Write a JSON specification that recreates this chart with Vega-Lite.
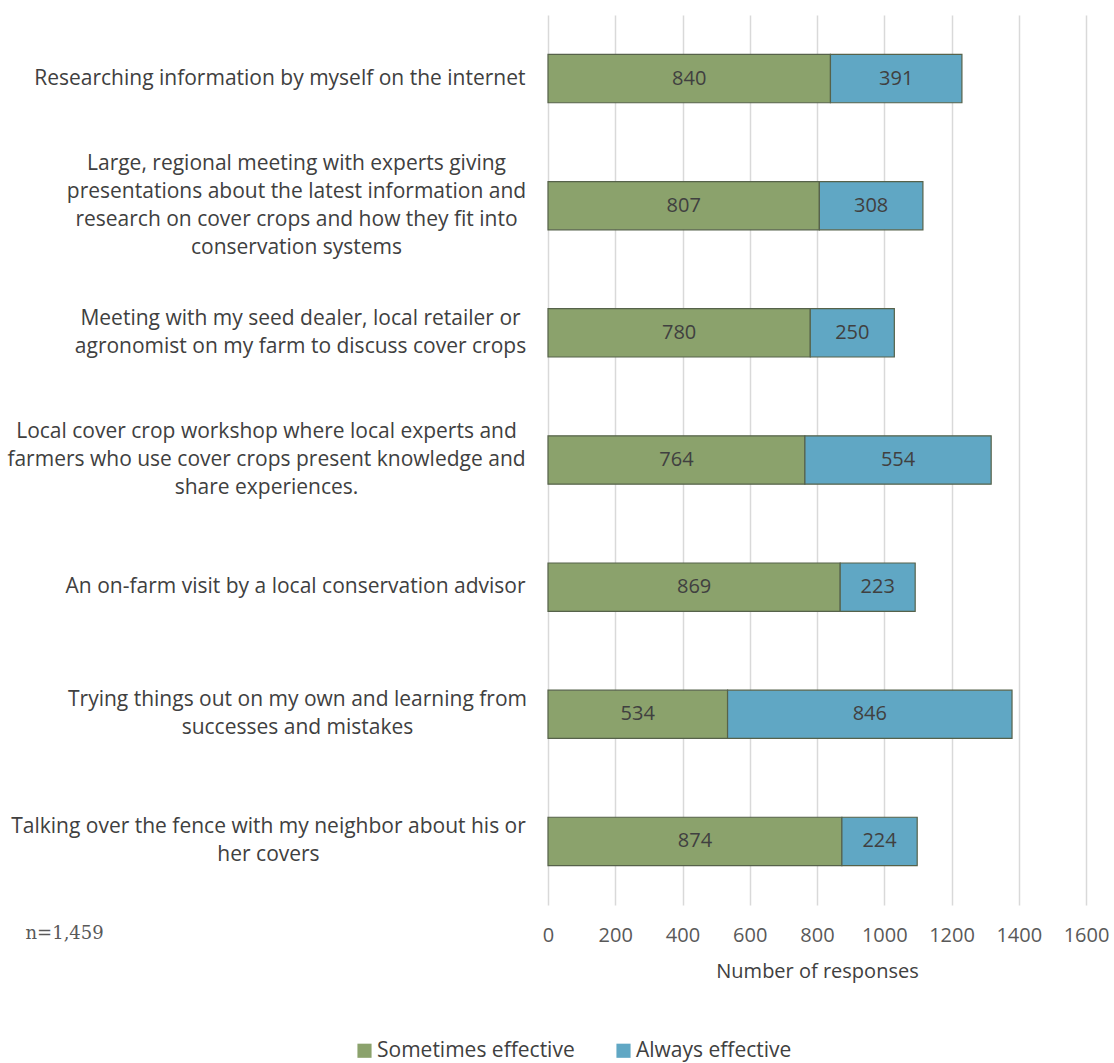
{
  "$schema": "https://vega.github.io/schema/vega-lite/v6.json",
  "autosize": {"type": "none"},
  "padding": {"left": 548, "top": 15, "right": 28, "bottom": 158},
  "width": 538,
  "height": 890,
  "background": "white",
  "config": {
    "view": {"stroke": null},
    "font": "Open Sans"
  },
  "data": {
    "values": [
      {"method": "Researching information by myself on the internet", "type": "Sometimes effective", "ord": 1, "value": 840},
      {"method": "Researching information by myself on the internet", "type": "Always effective", "ord": 2, "value": 391},
      {"method": "Large, regional meeting with experts giving|presentations about the latest information and|research on cover crops and how they fit into|conservation systems", "type": "Sometimes effective", "ord": 1, "value": 807},
      {"method": "Large, regional meeting with experts giving|presentations about the latest information and|research on cover crops and how they fit into|conservation systems", "type": "Always effective", "ord": 2, "value": 308},
      {"method": "Meeting with my seed dealer, local retailer or|agronomist on my farm to discuss cover crops", "type": "Sometimes effective", "ord": 1, "value": 780},
      {"method": "Meeting with my seed dealer, local retailer or|agronomist on my farm to discuss cover crops", "type": "Always effective", "ord": 2, "value": 250},
      {"method": "Local cover crop workshop where local experts and|farmers who use cover crops present knowledge and|share experiences.", "type": "Sometimes effective", "ord": 1, "value": 764},
      {"method": "Local cover crop workshop where local experts and|farmers who use cover crops present knowledge and|share experiences.", "type": "Always effective", "ord": 2, "value": 554},
      {"method": "An on-farm visit by a local conservation advisor", "type": "Sometimes effective", "ord": 1, "value": 869},
      {"method": "An on-farm visit by a local conservation advisor", "type": "Always effective", "ord": 2, "value": 223},
      {"method": "Trying things out on my own and learning from|successes and mistakes", "type": "Sometimes effective", "ord": 1, "value": 534},
      {"method": "Trying things out on my own and learning from|successes and mistakes", "type": "Always effective", "ord": 2, "value": 846},
      {"method": "Talking over the fence with my neighbor about his or|her covers", "type": "Sometimes effective", "ord": 1, "value": 874},
      {"method": "Talking over the fence with my neighbor about his or|her covers", "type": "Always effective", "ord": 2, "value": 224}
    ]
  },
  "transform": [
    {"stack": "value", "groupby": ["method"], "sort": [{"field": "ord"}], "as": ["v0", "v1"]},
    {"calculate": "(datum.v0 + datum.v1) / 2", "as": "mid"}
  ],
  "encoding": {
    "y": {
      "field": "method",
      "type": "nominal",
      "sort": null,
      "scale": {"paddingInner": 0.62, "paddingOuter": 0.31},
      "axis": {
        "title": "n=1,459",
        "titleAngle": 0,
        "titleAlign": "left",
        "titleBaseline": "middle",
        "titleX": -523,
        "titleY": 918,
        "titleFont": "DejaVu Serif",
        "titleFontWeight": "normal",
        "titleFontSize": 18,
        "titleColor": "#595959",
        "labelExpr": "split(datum.label, '|')",
        "labelFontSize": 21,
        "labelColor": "#404040",
        "labelLineHeight": 28,
        "labelBaseline": "middle",
        "labelLimit": 700,
        "labelAlign": {"condition": {"test": "indexof(datum.value, '|') >= 0", "value": "center"}, "value": "right"},
        "labelOffset": {"expr": "-(length(split(datum.value, '|')) - 1) * 14"},
        "labelPadding": {"expr": "indexof(datum.value, 'Large,') >= 0 ? 252 : indexof(datum.value, 'Meeting with') >= 0 ? 248 : indexof(datum.value, 'Local cover') >= 0 ? 282 : indexof(datum.value, 'Trying things') >= 0 ? 251 : indexof(datum.value, 'Talking over') >= 0 ? 280 : 23"},
        "domain": false,
        "ticks": false,
        "grid": false
      }
    }
  },
  "layer": [
    {
      "mark": {"type": "bar", "stroke": "#56624a", "strokeWidth": 1.2},
      "encoding": {
        "x": {
          "field": "v0",
          "type": "quantitative",
          "scale": {"domain": [0, 1600], "nice": false},
          "axis": {
            "title": "Number of responses",
            "values": [0, 200, 400, 600, 800, 1000, 1200, 1400, 1600],
            "format": "d",
            "labelOverlap": false,
            "labelFlush": false,
            "grid": true,
            "gridColor": "#d9d9d9",
            "gridWidth": 1.5,
            "domain": false,
            "ticks": false,
            "labelFontSize": 20,
            "labelColor": "#595959",
            "labelPadding": 20,
            "titleFontSize": 20,
            "titleFontWeight": "normal",
            "titleColor": "#404040",
            "titlePadding": 16
          }
        },
        "x2": {"field": "v1"},
        "color": {
          "field": "type",
          "type": "nominal",
          "scale": {"domain": ["Sometimes effective", "Always effective"], "range": ["#8ba26c", "#60a7c4"]},
          "legend": {
            "title": null,
            "orient": "none",
            "direction": "horizontal",
            "legendX": -194,
            "legendY": 1025,
            "symbolType": "square",
            "symbolSize": 200,
            "symbolStrokeWidth": 0,
            "labelFontSize": 21,
            "labelColor": "#404040",
            "labelOffset": 2,
            "labelLimit": 400,
            "columnPadding": 38
          }
        }
      }
    },
    {
      "mark": {"type": "text", "fontSize": 20, "color": "#404040"},
      "encoding": {
        "x": {"field": "mid", "type": "quantitative"},
        "text": {"field": "value", "type": "quantitative"}
      }
    }
  ]
}
